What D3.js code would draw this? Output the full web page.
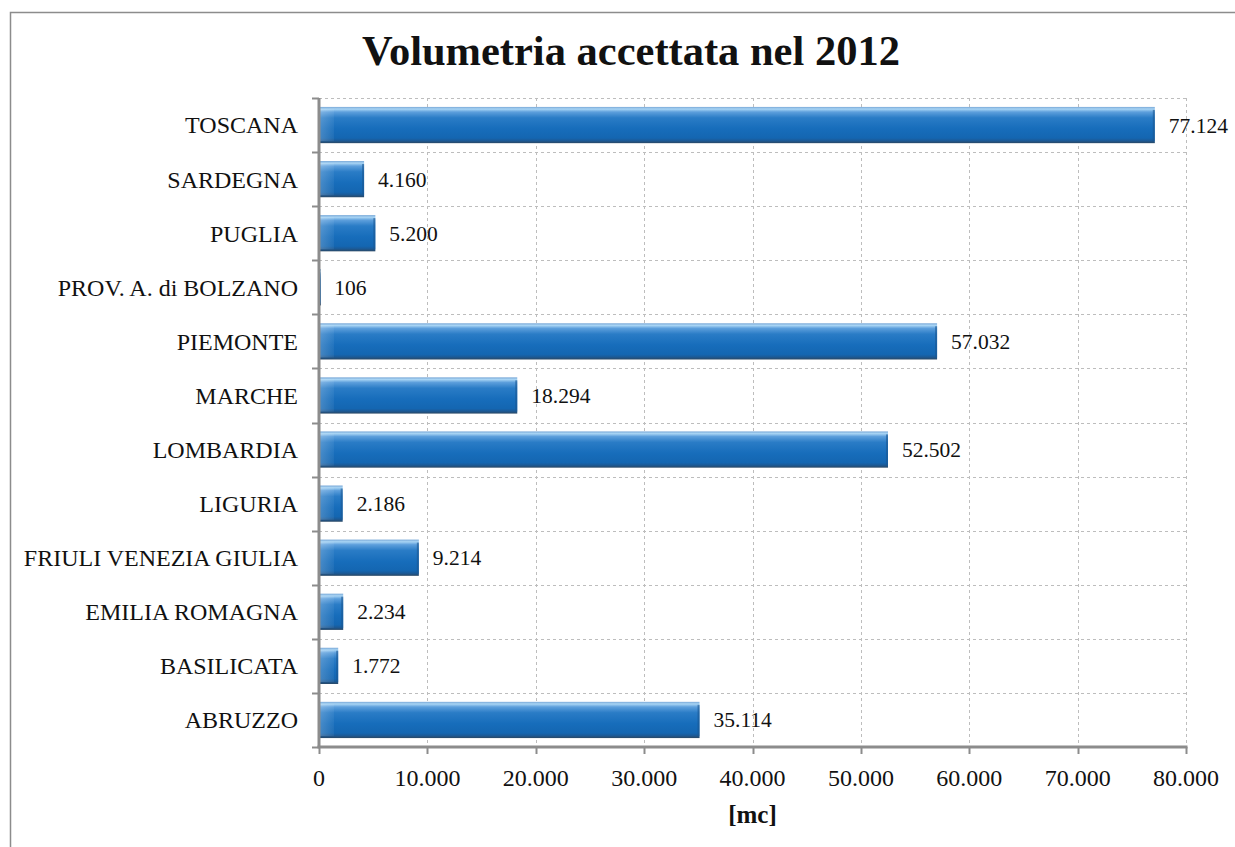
<!DOCTYPE html>
<html>
<head>
<meta charset="utf-8">
<script src="https://cdn.jsdelivr.net/npm/d3@7"></script>
<style>
  body { margin: 0; background: #fff; }
  svg { display: block; font-family: "Liberation Serif", "Times New Roman", serif; }
</style>
</head>
<body>
<div id="chart"></div>
<script>
// data (bottom to top as in the source)
var regions = ["ABRUZZO", "BASILICATA", "EMILIA ROMAGNA", "FRIULI VENEZIA GIULIA", "LIGURIA",
  "LOMBARDIA", "MARCHE", "PIEMONTE", "PROV. A. di BOLZANO", "PUGLIA", "SARDEGNA", "TOSCANA"];
var volumes = [35114, 1772, 2234, 9214, 2186, 52502, 18294, 57032, 106, 5200, 4160, 77124];
var xTicks = [0, 10000, 20000, 30000, 40000, 50000, 60000, 70000, 80000];

var W = 1235, H = 847;
var margin = { top: 98, right: 49, bottom: 100, left: 319 };
var width = W - margin.left - margin.right,
    height = H - margin.top - margin.bottom;

var svg = d3.select("#chart").append("svg")
    .attr("width", W)
    .attr("height", H);

// outer chart border
svg.append("rect")
    .attr("x", 10.5).attr("y", 12.5)
    .attr("width", W).attr("height", H)
    .attr("fill", "none")
    .attr("stroke", "#8c8c8c")
    .attr("stroke-width", 1.5);

var defs = svg.append("defs");
var grad = defs.append("linearGradient")
    .attr("id", "barGrad")
    .attr("x1", 0).attr("y1", 0).attr("x2", 0).attr("y2", 1);
[["0%", "#7aa9d8"], ["6%", "#a8d4f4"], ["14%", "#5d9fdc"], ["30%", "#2a7cc6"],
 ["60%", "#176dbb"], ["86%", "#1466b1"], ["93%", "#1b5a97"], ["100%", "#2a4865"]]
  .forEach(function(s) { grad.append("stop").attr("offset", s[0]).attr("stop-color", s[1]); });

var capGrad = defs.append("linearGradient")
    .attr("id", "capGrad")
    .attr("x1", 0).attr("y1", 0).attr("x2", 1).attr("y2", 0);
capGrad.append("stop").attr("offset", "0%").attr("stop-color", "#ffffff").attr("stop-opacity", 0.22);
capGrad.append("stop").attr("offset", "100%").attr("stop-color", "#ffffff").attr("stop-opacity", 0.05);

var g = svg.append("g")
    .attr("transform", "translate(" + margin.left + "," + margin.top + ")");

var x = d3.scaleLinear().domain([0, 80000]).range([0, width]);
var y = d3.scaleBand().domain(regions.slice().reverse()).range([0, height]).paddingInner(0.33).paddingOuter(0.165);
var step = y.step();

var fmt = d3.formatLocale({ decimal: ",", thousands: ".", grouping: [3], currency: ["", "€"] }).format(",.0f");

// vertical gridlines
g.append("g").selectAll("line")
    .data(xTicks.slice(1))
    .enter().append("line")
    .attr("x1", function(d) { return Math.round(x(d)) + 0.5; })
    .attr("x2", function(d) { return Math.round(x(d)) + 0.5; })
    .attr("y1", 0).attr("y2", height)
    .attr("stroke", "#bdbdbd")
    .attr("stroke-dasharray", "3,3");

// horizontal gridlines at band boundaries
var bounds = d3.range(regions.length);
g.append("g").selectAll("line")
    .data(bounds)
    .enter().append("line")
    .attr("x1", 0).attr("x2", width)
    .attr("y1", function(d) { return Math.round(d * step) + 0.5; })
    .attr("y2", function(d) { return Math.round(d * step) + 0.5; })
    .attr("stroke", "#bdbdbd")
    .attr("stroke-dasharray", "3,3");

// bars
var bars = g.append("g").selectAll("g")
    .data(regions.map(function(r, i) { return { name: r, value: volumes[i] }; }))
    .enter().append("g");

bars.append("rect")
    .attr("x", 0)
    .attr("y", function(d) { return y(d.name); })
    .attr("width", function(d) { return Math.max(2, x(d.value)); })
    .attr("height", y.bandwidth())
    .attr("fill", "url(#barGrad)");

bars.append("rect")
    .attr("x", 0)
    .attr("y", function(d) { return y(d.name) + 2; })
    .attr("width", function(d) { return Math.min(15, x(d.value)); })
    .attr("height", y.bandwidth() - 4)
    .attr("fill", "url(#capGrad)");

bars.append("rect")
    .attr("x", function(d) { return Math.max(0, x(d.value) - 2); })
    .attr("y", function(d) { return y(d.name) + 3; })
    .attr("width", function(d) { return Math.min(2, x(d.value)); })
    .attr("height", y.bandwidth() - 5)
    .attr("fill", "#1a5791")
    .attr("opacity", 0.6);

bars.append("text")
    .attr("x", function(d) { return x(d.value) + 14; })
    .attr("y", function(d) { return y(d.name) + y.bandwidth() / 2; })
    .attr("dy", "0.35em")
    .attr("font-size", 21.5)
    .attr("fill", "#111")
    .text(function(d) { return fmt(d.value); });

// y axis
var yAxis = g.append("g");
yAxis.append("line")
    .attr("x1", 0).attr("x2", 0).attr("y1", 0).attr("y2", height + 1)
    .attr("stroke", "#8c8c8c").attr("stroke-width", 3);
yAxis.selectAll(".tk")
    .data(d3.range(regions.length + 1))
    .enter().append("line")
    .attr("x1", -7).attr("x2", 0)
    .attr("y1", function(d) { return Math.round(d * step) + 0.5; })
    .attr("y2", function(d) { return Math.round(d * step) + 0.5; })
    .attr("stroke", "#8c8c8c").attr("stroke-width", 2);
yAxis.selectAll("text")
    .data(regions)
    .enter().append("text")
    .attr("x", -21)
    .attr("y", function(d) { return y(d) + y.bandwidth() / 2; })
    .attr("dy", "0.35em")
    .attr("text-anchor", "end")
    .attr("font-size", 24)
    .attr("fill", "#111")
    .text(function(d) { return d; });

// x axis
var xAxis = g.append("g").attr("transform", "translate(0," + height + ")");
xAxis.append("line")
    .attr("x1", -1.5).attr("x2", width + 1.5).attr("y1", 0).attr("y2", 0)
    .attr("stroke", "#8c8c8c").attr("stroke-width", 3);
xAxis.selectAll(".tk")
    .data(xTicks)
    .enter().append("line")
    .attr("x1", function(d) { return Math.round(x(d)) + 0.5; })
    .attr("x2", function(d) { return Math.round(x(d)) + 0.5; })
    .attr("y1", 0).attr("y2", 7)
    .attr("stroke", "#8c8c8c").attr("stroke-width", 2);
xAxis.selectAll("text")
    .data(xTicks)
    .enter().append("text")
    .attr("x", function(d) { return x(d); })
    .attr("y", 39)
    .attr("text-anchor", "middle")
    .attr("font-size", 24)
    .attr("fill", "#111")
    .text(function(d) { return fmt(d); });

// axis title
svg.append("text")
    .attr("x", margin.left + width / 2)
    .attr("y", 823)
    .attr("text-anchor", "middle")
    .attr("font-size", 25)
    .attr("font-weight", "bold")
    .attr("fill", "#111")
    .text("[mc]");

// chart title
svg.append("text")
    .attr("x", 631)
    .attr("y", 65)
    .attr("text-anchor", "middle")
    .attr("font-size", 42.5)
    .attr("font-weight", "bold")
    .attr("fill", "#111")
    .text("Volumetria accettata nel 2012");
</script>
</body>
</html>
